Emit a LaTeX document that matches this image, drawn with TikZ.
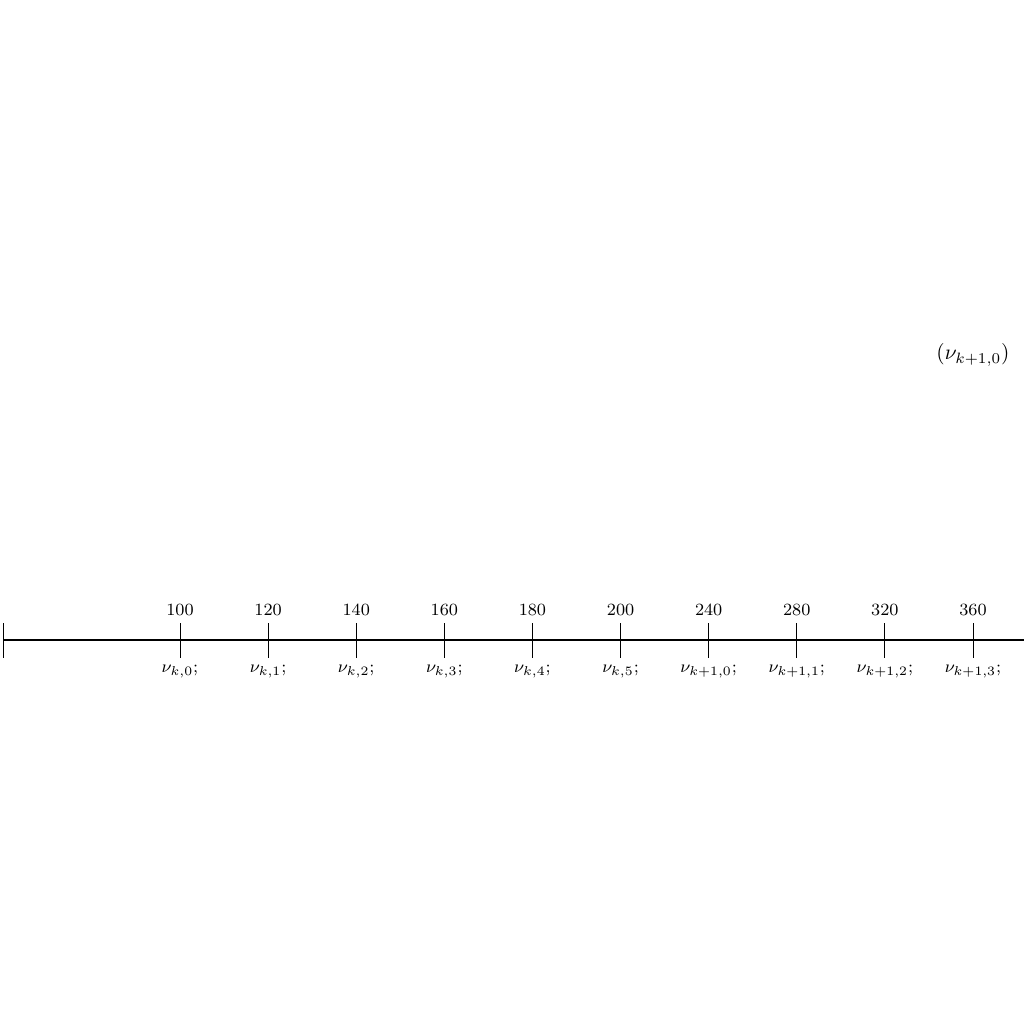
\documentclass[tikz,border=0pt]{standalone}
\begin{document}
\begin{tikzpicture}[x=0.016406cm,y=-0.016406cm,
  axisline/.style={line width=0.8pt},
  tickline/.style={line width=0.4pt},
  toplabel/.style={above,font=\footnotesize},
  botlabel/.style={below,font=\footnotesize}]
\useasboundingbox (0,0) rectangle (1024,1024);
\coordinate (start) at (3,640);
\coordinate (end) at (1024,640);
\draw[axisline] (start) -- (end);
\draw[tickline] (3,623) -- (3,658);
\foreach \i/\t/\l in {0/100/{k,0},1/120/{k,1},2/140/{k,2},3/160/{k,3},4/180/{k,4},5/200/{k,5},6/240/{k+1,0},7/280/{k+1,1},8/320/{k+1,2},9/360/{k+1,3}}{
  \pgfmathsetmacro{\xx}{180+88.11*\i}
  \coordinate (t\i top) at (\xx,623);
  \coordinate (t\i bot) at (\xx,658);
  \draw[tickline] (t\i top) -- (t\i bot);
  \node[toplabel] (n\i) at (t\i top) {\t};
  \node[botlabel] (v\i) at (t\i bot) {$\nu_{\l};$};
}
\node (big) at (973,355) {$(\nu_{k+1,0})$};
\end{tikzpicture}
\end{document}
